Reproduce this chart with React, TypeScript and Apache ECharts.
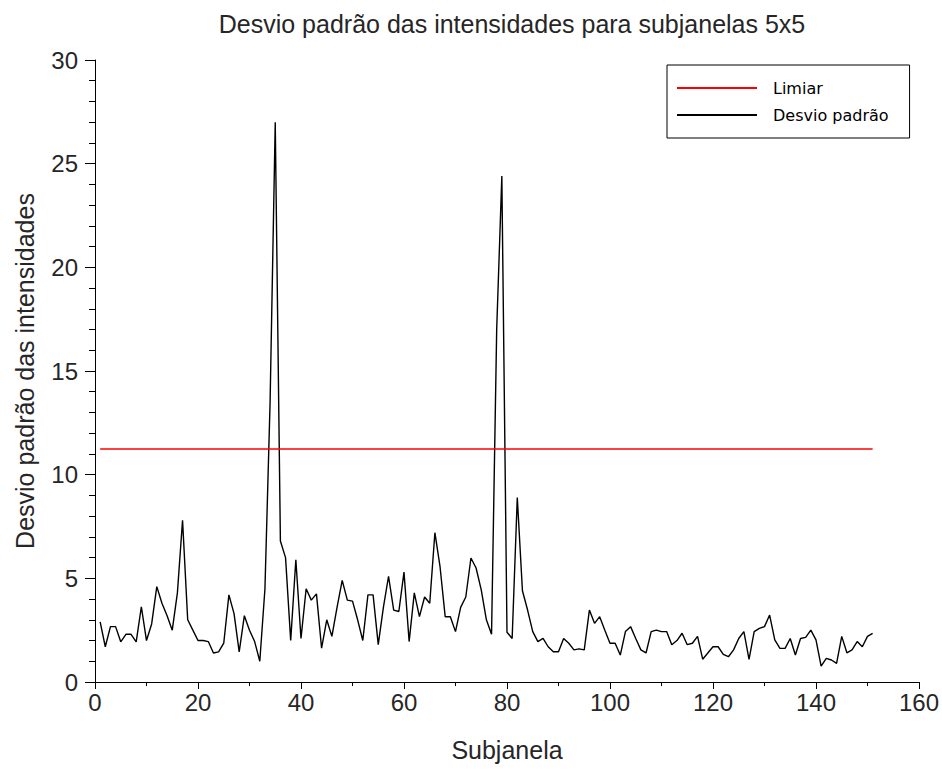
import React, { useEffect, useRef } from "react";
import * as echarts from "echarts";

const chartTitle = "Desvio padrão das intensidades para subjanelas 5x5";
const xAxisName = "Subjanela";
const yAxisName = "Desvio padrão das intensidades";
const seriesDesvio = "Desvio padrão";
const seriesLimiar = "Limiar";

// desvio padrão for subjanela 1..151
const desvioValues = [
  2.9, 1.7, 2.67, 2.67, 1.94, 2.3, 2.3, 1.94, 3.63, 2.0,
  2.8, 4.6, 3.8, 3.2, 2.5, 4.3, 7.8, 3.0, 2.5, 2.0,
  2.0, 1.95, 1.4, 1.45, 1.87, 4.2, 3.3, 1.45, 3.2, 2.5,
  1.95, 1.0, 4.5, 13.5, 27.0, 6.8, 6.0, 2.0, 5.9, 2.1,
  4.5, 3.95, 4.25, 1.63, 3.0, 2.2, 3.6, 4.9, 3.95, 3.9,
  3.0, 2.0, 4.2, 4.2, 1.8, 3.6, 5.1, 3.47, 3.4, 5.3,
  1.95, 4.3, 3.15, 4.1, 3.8, 7.2, 5.56, 3.15, 3.15, 2.43,
  3.6, 4.1, 5.98, 5.5, 4.44, 3.0, 2.3, 17.0, 24.4, 2.4,
  2.1, 8.9, 4.4, 3.47, 2.43, 1.95, 2.1, 1.7, 1.46, 1.46,
  2.1, 1.87, 1.55, 1.6, 1.55, 3.47, 2.83, 3.15, 2.5, 1.87,
  1.87, 1.3, 2.43, 2.67, 2.1, 1.55, 1.4, 2.43, 2.5, 2.43,
  2.43, 1.8, 2.0, 2.35, 1.8, 1.87, 2.2, 1.1, 1.4, 1.7,
  1.7, 1.33, 1.22, 1.55, 2.1, 2.43, 1.09, 2.43, 2.59, 2.67,
  3.23, 2.03, 1.62, 1.62, 2.1, 1.3, 2.1, 2.15, 2.5, 2.03,
  0.77, 1.14, 1.06, 0.9, 2.2, 1.41, 1.55, 1.95, 1.7, 2.2,
  2.35,
];
const firstSubjanela = 1;

const limiarValue = 11.24;
const limiarX = [1, 151];

const xMin = 0;
const xMax = 160;
const xInterval = 20;
const yMin = 0;
const yMax = 30;
const yInterval = 5;

const FONT = "Liberation Sans, Arial, sans-serif";
const TEXT = "#262626";

export default function App() {
  const ref = useRef<HTMLDivElement>(null);

  useEffect(() => {
    if (!ref.current) return;
    const chart = echarts.init(ref.current, undefined, { renderer: "svg" });

    const desvioData = desvioValues.map((v, i) => [firstSubjanela + i, v]);
    const limiarData = limiarX.map((x) => [x, limiarValue]);

    chart.setOption({
      animation: false,
      backgroundColor: "#fff",
      title: {
        text: chartTitle,
        left: 507,
        top: 6,
        textAlign: "center",
        textStyle: { fontFamily: FONT, fontSize: 25, fontWeight: "normal", color: TEXT },
      },
      legend: {
        data: [seriesLimiar, seriesDesvio],
        orient: "vertical",
        left: 667,
        top: 65,
        padding: [13, 21, 13, 10],
        itemWidth: 80,
        itemHeight: 2,
        itemGap: 7,
        icon: "rect",
        borderColor: "#000",
        borderWidth: 1,
        borderRadius: 0,
        textStyle: {
          fontFamily: "DejaVu Sans, sans-serif",
          fontSize: 16,
          color: "#000",
          lineHeight: 20,
          padding: [0, 0, 0, 11],
        },
      },
      grid: { left: 95, right: 23, top: 60, bottom: 87, containLabel: false },
      xAxis: {
        type: "value",
        min: xMin,
        max: xMax,
        interval: xInterval,
        name: xAxisName,
        nameLocation: "middle",
        nameGap: 55,
        nameTextStyle: { fontFamily: FONT, fontSize: 25, color: TEXT },
        axisLine: { show: true, onZero: false, lineStyle: { color: "#000", width: 1 } },
        axisTick: { show: true, length: 7, lineStyle: { color: "#000" } },
        minorTick: { show: true, splitNumber: 2, length: 4, lineStyle: { color: "#000" } },
        axisLabel: { fontFamily: FONT, fontSize: 24, color: TEXT, margin: 8 },
        splitLine: { show: false },
      },
      yAxis: {
        type: "value",
        min: yMin,
        max: yMax,
        interval: yInterval,
        name: yAxisName,
        nameLocation: "middle",
        nameGap: 58,
        nameTextStyle: { fontFamily: FONT, fontSize: 25, color: TEXT },
        axisLine: { show: true, lineStyle: { color: "#000", width: 1 } },
        axisTick: { show: true, length: 10, lineStyle: { color: "#000" } },
        minorTick: { show: true, splitNumber: 5, length: 6, lineStyle: { color: "#000" } },
        axisLabel: { fontFamily: FONT, fontSize: 24, color: TEXT, margin: 17 },
        splitLine: { show: false },
      },
      series: [
        {
          name: seriesDesvio,
          type: "line",
          data: desvioData,
          symbol: "none",
          color: "#000",
          itemStyle: { color: "#000" },
          lineStyle: { color: "#000", width: 1.4 },
        },
        {
          name: seriesLimiar,
          type: "line",
          data: limiarData,
          symbol: "none",
          color: "#ff0000",
          itemStyle: { color: "#ff0000" },
          lineStyle: { color: "#ff0000", width: 1.6 },
        },
      ],
    });

    return () => chart.dispose();
  }, []);

  return (
    <div
      ref={ref}
      style={{ position: "absolute", left: 0, top: 0, width: 942, height: 769 }}
    />
  );
}
